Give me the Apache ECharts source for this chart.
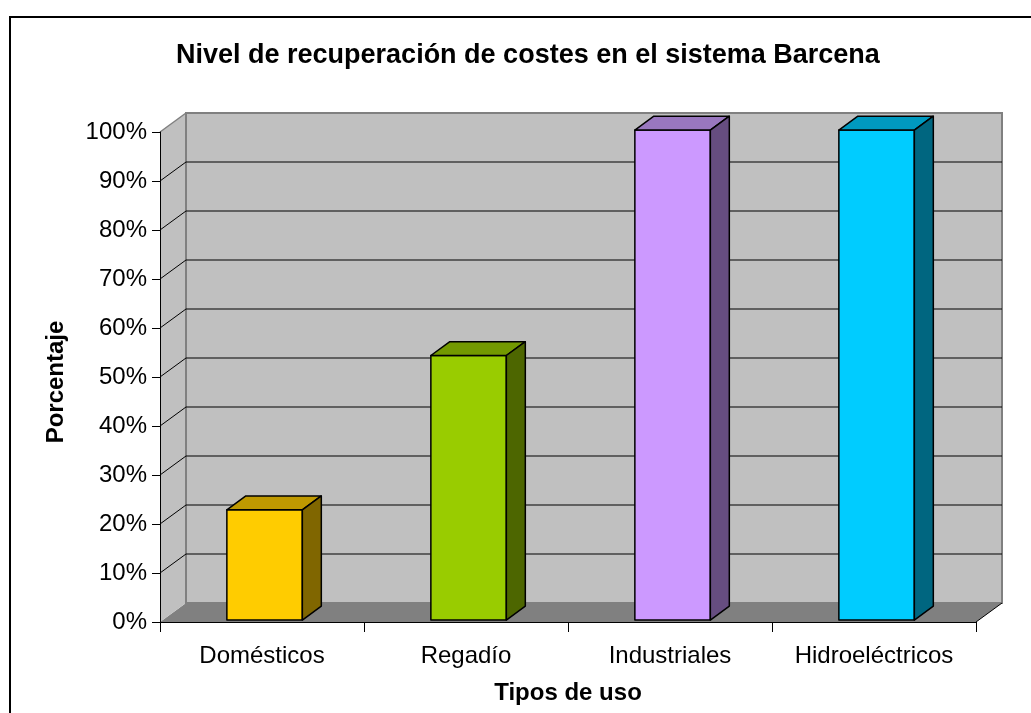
<!DOCTYPE html>
<html>
<head>
<meta charset="utf-8">
<script src="https://cdn.jsdelivr.net/npm/echarts@6/dist/echarts.min.js"></script>
<style>
  html, body { margin: 0; padding: 0; background: #ffffff; }
  #chart { width: 1031px; height: 713px; }
</style>
</head>
<body>
<div id="chart"></div>
<script>
// Cost-recovery level per water use type (percent)
const categories = ['Domésticos', 'Regadío', 'Industriales', 'Hidroeléctricos'];
const recovery = [22.5, 54, 100, 100];
const percentTicks = [0, 10, 20, 30, 40, 50, 60, 70, 80, 90, 100];

// Palette: front face, top face (shaded), side face (dark)
const frontColors = ['#ffcc00', '#99cc00', '#cc99ff', '#00ccff'];
const topColors = ['#bf9900', '#739900', '#9977bf', '#0099bf'];
const sideColors = ['#806600', '#4d6600', '#664d80', '#006680'];

// Oblique depth of the 3D box (pixels)
const DEPTH_DX = 26;
const DEPTH_DY = -19;
const BAR_RATIO = 0.37;      // bar width relative to category band
const BAR_DEPTH = 0.73;      // bar depth relative to floor depth
const BAR_FRONT = 0.10;      // bar front inset relative to floor depth

const FONT = 'Liberation Sans, Arial, sans-serif';
const chart = echarts.init(document.getElementById('chart'), null, { renderer: 'canvas' });

function renderWalls(params, api) {
  const cs = params.coordSys;
  const x0 = cs.x, x1 = cs.x + cs.width;
  const yb = api.coord([0, percentTicks[0]])[1];
  const yt = api.coord([0, percentTicks[percentTicks.length - 1]])[1];
  const dx = DEPTH_DX, dy = DEPTH_DY;
  const children = [];
  // floor
  children.push({
    type: 'polygon',
    shape: { points: [[x0, yb], [x1, yb], [x1 + dx, yb + dy], [x0 + dx, yb + dy]] },
    style: { fill: '#808080', stroke: null }
  });
  // left side wall
  children.push({
    type: 'polygon',
    shape: { points: [[x0, yb], [x0 + dx, yb + dy], [x0 + dx, yt + dy], [x0, yt]] },
    style: { fill: '#c0c0c0', stroke: null }
  });
  // back wall
  children.push({
    type: 'polygon',
    shape: { points: [[x0 + dx, yt + dy], [x1 + dx, yt + dy], [x1 + dx, yb + dy], [x0 + dx, yb + dy]] },
    style: { fill: '#c0c0c0', stroke: '#808080', lineWidth: 2 }
  });
  // gridlines on back wall and side wall
  percentTicks.slice(1, -1).forEach(function (v) {
    const y = api.coord([0, v])[1];
    children.push({
      type: 'line',
      shape: { x1: x0 + dx, y1: y + dy, x2: x1 + dx, y2: y + dy },
      style: { stroke: '#000000', lineWidth: 1 }
    });
    children.push({
      type: 'line',
      shape: { x1: x0, y1: y, x2: x0 + dx, y2: y + dy },
      style: { stroke: '#000000', lineWidth: 1 }
    });
  });
  // top edge of the side wall
  children.push({
    type: 'line',
    shape: { x1: x0, y1: yt, x2: x0 + dx, y2: yt + dy },
    style: { stroke: '#808080', lineWidth: 1.5 }
  });
  // right edge of the floor
  children.push({
    type: 'line',
    shape: { x1: x1, y1: yb, x2: x1 + dx, y2: yb + dy },
    style: { stroke: '#000000', lineWidth: 1 }
  });
  return { type: 'group', children: children };
}

function renderBar(params, api) {
  const idx = api.value(0);
  const val = api.value(1);
  const base = api.coord([idx, 0]);
  const top = api.coord([idx, val]);
  const bw = api.size([1, 0])[0] * BAR_RATIO;
  const ox = DEPTH_DX * BAR_FRONT, oy = DEPTH_DY * BAR_FRONT;
  const sx = DEPTH_DX * BAR_DEPTH, sy = DEPTH_DY * BAR_DEPTH;
  const xl = base[0] - bw / 2 + ox, xr = base[0] + bw / 2 + ox;
  const yb = base[1] + oy, yt = top[1] + oy;
  const i = params.dataIndex;
  const stroke = { stroke: '#000000', lineWidth: 1.5, lineJoin: 'round' };
  return {
    type: 'group',
    children: [
      {
        type: 'polygon',
        shape: { points: [[xl, yb], [xr, yb], [xr, yt], [xl, yt]] },
        style: Object.assign({ fill: frontColors[i] }, stroke)
      },
      {
        type: 'polygon',
        shape: { points: [[xl, yt], [xr, yt], [xr + sx, yt + sy], [xl + sx, yt + sy]] },
        style: Object.assign({ fill: topColors[i] }, stroke)
      },
      {
        type: 'polygon',
        shape: { points: [[xr, yb], [xr + sx, yb + sy], [xr + sx, yt + sy], [xr, yt]] },
        style: Object.assign({ fill: sideColors[i] }, stroke)
      }
    ]
  };
}

const option = {
  animation: false,
  backgroundColor: '#ffffff',
  title: {
    text: 'Nivel de recuperación de costes en el sistema Barcena',
    left: 171,
    top: 37,
    textStyle: { fontFamily: FONT, fontSize: 27, fontWeight: 'bold', color: '#000000' }
  },
  graphic: [{
    type: 'rect',
    left: 7.5, top: 14.5,
    shape: { width: 1040, height: 720 },
    style: { fill: null, stroke: '#000000', lineWidth: 2 },
    z: 100
  }],
  grid: { left: 160, right: 55, top: 132, bottom: 91, containLabel: false },
  xAxis: {
    type: 'category',
    data: categories,
    boundaryGap: true,
    z: 10,
    name: 'Tipos de uso',
    nameLocation: 'middle',
    nameGap: 59,
    nameTextStyle: { fontFamily: FONT, fontSize: 24, fontWeight: 'bold', color: '#000000' },
    axisLine: { show: true, lineStyle: { color: '#000000', width: 1 } },
    axisTick: { show: true, interval: 0, length: 10, alignWithLabel: false, lineStyle: { color: '#000000' } },
    axisLabel: { interval: 0, hideOverlap: false, fontFamily: FONT, fontSize: 24, color: '#000000', margin: 22 },
    splitLine: { show: false }
  },
  yAxis: {
    type: 'value',
    min: percentTicks[0],
    max: percentTicks[percentTicks.length - 1],
    interval: percentTicks[1] - percentTicks[0],
    z: 10,
    name: 'Porcentaje',
    nameLocation: 'middle',
    nameRotate: 90,
    nameGap: 92,
    nameTextStyle: { fontFamily: FONT, fontSize: 24, fontWeight: 'bold', color: '#000000', padding: [0, 10, 0, 0] },
    axisLine: { show: true, lineStyle: { color: '#000000', width: 1 } },
    axisTick: { show: true, length: 8, lineStyle: { color: '#000000' } },
    axisLabel: { fontFamily: FONT, fontSize: 24, color: '#000000', margin: 13, padding: [4, 0, 0, 0], formatter: '{value}%' },
    splitLine: { show: false }
  },
  series: [
    {
      type: 'custom',
      name: 'walls',
      z: 1,
      clip: false,
      silent: true,
      renderItem: renderWalls,
      data: [[0, 0]]
    },
    {
      type: 'custom',
      name: 'Recuperación',
      z: 3,
      clip: false,
      renderItem: renderBar,
      data: recovery.map(function (v, i) { return [i, v]; })
    }
  ]
};

chart.setOption(option);
</script>
</body>
</html>
